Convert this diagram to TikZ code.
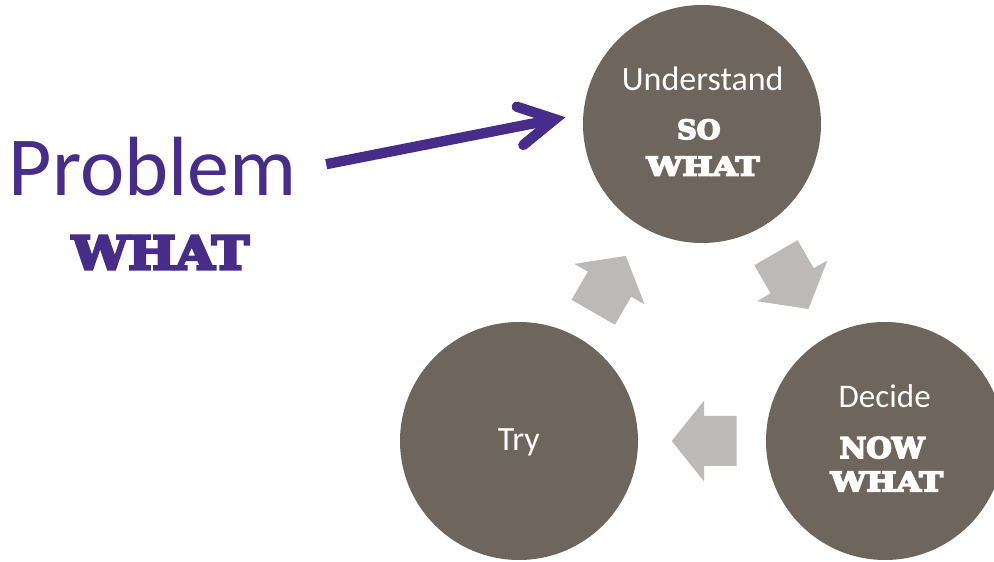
\documentclass[tikz,border=0pt]{standalone}
\usepackage{fontspec}
\setmainfont{Carlito}
\newfontfamily\coop{DejaVu Serif}[BoldFeatures={FakeBold=6}]
\usepackage{graphicx}
\definecolor{circ}{RGB}{110,101,92}
\definecolor{agray}{RGB}{188,185,182}
\definecolor{purp}{RGB}{72,44,138}
\tikzset{
  bubble/.style={circle, fill=circ, minimum size=238pt, inner sep=0pt},
  wtext/.style={text=white, inner sep=0pt, outer sep=0pt, font=\fontsize{34}{40}\selectfont},
  coopw/.style={text=white, inner sep=0pt, outer sep=0pt, font=\coop\bfseries},
  blockarr/.pic={\fill[agray] (32.5,0) -- (0,40.5) -- (0,25) -- (-32.5,25) -- (-32.5,-25) -- (0,-25) -- (0,-40.5) -- cycle;}
}
\begin{document}
\begin{tikzpicture}[x=1pt,y=1pt]
\useasboundingbox (0,0) rectangle (994,562);
\clip (0,0) rectangle (994,562);
\fill[white] (0,0) rectangle (994,562);
% circles
\node[bubble] (und) at (702,438) {};
\node[bubble] (dec) at (885,121) {};
\node[bubble] (try) at (519,121) {};
% block arrows
\pic[rotate=60] (a1) at (609.5,277.9) {blockarr};
\pic[rotate=-60] (a2) at (792.2,281.1) {blockarr};
\pic[rotate=180] (a3) at (704.2,121) {blockarr};
% texts
\node[wtext, anchor=base] (tund) at (702.7,471.3) {Understand};
\node[wtext, anchor=base, font=\fontsize{33}{40}\selectfont] (tdec) at (884.7,154.7) {Decide};
\node[wtext, anchor=base] (ttry) at (518.8,111) {Try};
\node[coopw, anchor=base west] (so) at (677,423) {\resizebox{43.5pt}{19.6pt}{SO}};
\node[coopw, anchor=base west] (sowhat) at (646.5,386.3) {\resizebox{113pt}{19pt}{WHAT}};
\node[coopw, anchor=base west] (now) at (839.6,104) {\resizebox{85pt}{21.2pt}{NOW}};
\node[coopw, anchor=base west] (nowwhat) at (830.5,70.6) {\resizebox{112.5pt}{19.6pt}{WHAT}};
\node[text=purp, inner sep=0pt, outer sep=0pt, anchor=base west, font=\fontsize{84}{100}\selectfont] (prob) at (8.8,366) {Problem};
\node[coopw, text=purp, anchor=base west] (what) at (72,292.7) {\resizebox{177pt}{33.5pt}{WHAT}};
% purple arrow
\coordinate (ptail) at (326.2,397.8);
\coordinate (papex) at (554.9,442.8);
\coordinate (pb1) at (516.7,455.3);
\coordinate (pb2) at (523.3,417);
\draw[purp, line width=10.3pt, line cap=butt] (ptail) -- (papex);
\draw[purp, line width=10.3pt, line cap=round, line join=miter] (pb1) -- (papex) -- (pb2);
\end{tikzpicture}
\end{document}
